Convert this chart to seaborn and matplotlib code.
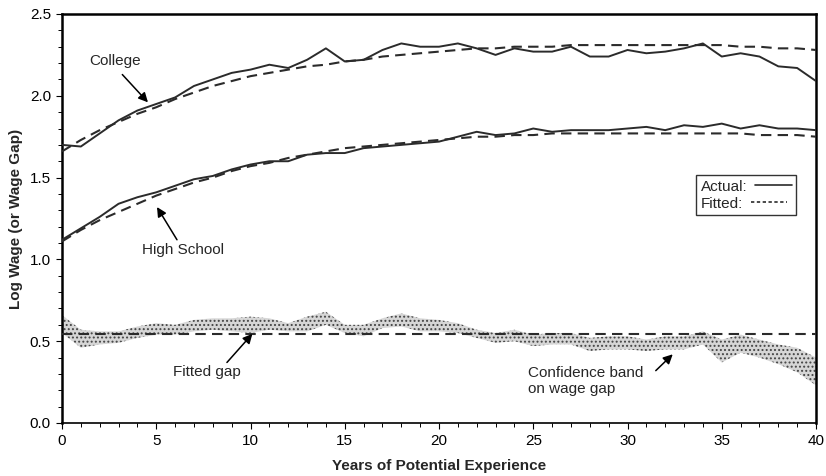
import numpy as np
import pandas as pd
import matplotlib
matplotlib.use("Agg")
import matplotlib.pyplot as plt
from matplotlib.lines import Line2D
from matplotlib.ticker import MultipleLocator, FormatStrFormatter
import seaborn as sns

years = list(range(0, 41))

college_actual = [1.70, 1.69, 1.77, 1.85, 1.91, 1.95, 1.99, 2.06, 2.10, 2.14, 2.16,
                  2.19, 2.17, 2.22, 2.29, 2.21, 2.22, 2.28, 2.32, 2.30, 2.30,
                  2.32, 2.29, 2.25, 2.29, 2.27, 2.27, 2.30, 2.24, 2.24, 2.28,
                  2.26, 2.27, 2.29, 2.32, 2.24, 2.26, 2.24, 2.18, 2.17, 2.09]
college_fitted = [1.66, 1.73, 1.79, 1.84, 1.89, 1.93, 1.98, 2.02, 2.06, 2.09, 2.12,
                  2.14, 2.16, 2.18, 2.19, 2.21, 2.22, 2.24, 2.25, 2.26, 2.27,
                  2.28, 2.29, 2.29, 2.30, 2.30, 2.30, 2.31, 2.31, 2.31, 2.31,
                  2.31, 2.31, 2.31, 2.31, 2.31, 2.30, 2.30, 2.29, 2.29, 2.28]
hs_actual = [1.12, 1.19, 1.26, 1.34, 1.38, 1.41, 1.45, 1.49, 1.51, 1.55, 1.58,
             1.60, 1.60, 1.64, 1.65, 1.65, 1.68, 1.69, 1.70, 1.71, 1.72,
             1.75, 1.78, 1.76, 1.77, 1.80, 1.78, 1.79, 1.79, 1.79, 1.80,
             1.81, 1.79, 1.82, 1.81, 1.83, 1.80, 1.82, 1.80, 1.80, 1.79]
hs_fitted = [1.11, 1.18, 1.24, 1.29, 1.34, 1.39, 1.43, 1.47, 1.50, 1.54, 1.57,
             1.59, 1.62, 1.64, 1.66, 1.68, 1.69, 1.70, 1.71, 1.72, 1.73,
             1.74, 1.75, 1.75, 1.76, 1.76, 1.77, 1.77, 1.77, 1.77, 1.77,
             1.77, 1.77, 1.77, 1.77, 1.77, 1.77, 1.76, 1.76, 1.76, 1.75]
gap_upper = [0.66, 0.57, 0.56, 0.56, 0.59, 0.61, 0.60, 0.63, 0.64, 0.64, 0.65,
             0.64, 0.61, 0.65, 0.68, 0.60, 0.60, 0.64, 0.67, 0.64, 0.63,
             0.61, 0.57, 0.55, 0.57, 0.54, 0.55, 0.55, 0.52, 0.53, 0.53,
             0.51, 0.53, 0.53, 0.56, 0.51, 0.54, 0.51, 0.48, 0.46, 0.40]
gap_lower = [0.55, 0.46, 0.48, 0.49, 0.52, 0.54, 0.54, 0.56, 0.57, 0.56, 0.55,
             0.57, 0.56, 0.56, 0.60, 0.55, 0.53, 0.58, 0.59, 0.56, 0.56,
             0.55, 0.52, 0.49, 0.50, 0.47, 0.48, 0.48, 0.44, 0.45, 0.45,
             0.44, 0.45, 0.45, 0.48, 0.37, 0.43, 0.40, 0.36, 0.31, 0.23]
fitted_gap = [0.545] * 41

x_ticks = [0, 5, 10, 15, 20, 25, 30, 35, 40]
y_ticks = [0.0, 0.5, 1.0, 1.5, 2.0, 2.5]

sns.set_theme(style="ticks")
plt.rcParams['font.family'] = ['Liberation Sans', 'DejaVu Sans']
plt.rcParams['hatch.color'] = '#444444'
plt.rcParams['hatch.linewidth'] = 0.9

fig = plt.figure(figsize=(8.26, 4.76), dpi=100)
ax = fig.add_axes([62/826, 1 - 423/476, 754/826, 409/476])

line_col = '#2b2b2b'
ax.fill_between(years, gap_lower, gap_upper, facecolor='#d6d6d6',
                edgecolor='#444444', hatch='....', linewidth=0, zorder=1)

sns.lineplot(x=years, y=college_actual, ax=ax, color=line_col, lw=1.4, zorder=3)
sns.lineplot(x=years, y=college_fitted, ax=ax, color=line_col, lw=1.5,
             linestyle=(0, (5, 3)), zorder=3)
sns.lineplot(x=years, y=hs_actual, ax=ax, color=line_col, lw=1.4, zorder=3)
sns.lineplot(x=years, y=hs_fitted, ax=ax, color=line_col, lw=1.5,
             linestyle=(0, (5, 3)), zorder=3)
sns.lineplot(x=years, y=fitted_gap, ax=ax, color=line_col, lw=1.5,
             linestyle=(0, (5, 3)), zorder=3)

ax.set_xlim(0, 40)
ax.set_ylim(0, 2.5)
ax.set_xticks(x_ticks)
ax.set_yticks(y_ticks)
ax.xaxis.set_minor_locator(MultipleLocator(1))
ax.yaxis.set_minor_locator(MultipleLocator(0.1))
ax.yaxis.set_major_formatter(FormatStrFormatter('%.1f'))
ax.tick_params(axis='both', which='major', direction='out', length=4, width=0.8,
               labelsize=11, pad=4, color='black', labelcolor='black')
ax.tick_params(axis='both', which='minor', direction='out', length=3, width=0.7,
               color='black')
ax.tick_params(axis='x', which='major', pad=4)

for s in ax.spines.values():
    s.set_visible(True)
    s.set_linewidth(1.8)
    s.set_color('black')
ax.spines['bottom'].set_linewidth(1.2)

ax.set_xlabel('Years of Potential Experience', fontsize=11, fontweight='bold',
              labelpad=8)
ax.set_ylabel('Log Wage (or Wage Gap)', fontsize=11, fontweight='bold',
              labelpad=5)

arrow = dict(arrowstyle='-|>', color='black', lw=1.1, mutation_scale=14,
             shrinkA=0, shrinkB=0)
ax.text(2.8, 2.21, 'College', fontsize=11, ha='center', va='center')
ax.annotate('', xy=(4.56, 1.96), xytext=(3.2, 2.13), arrowprops=arrow)
ax.text(6.4, 1.06, 'High School', fontsize=11, ha='center', va='center')
ax.annotate('', xy=(5.04, 1.32), xytext=(6.1, 1.12), arrowprops=arrow)
ax.text(7.7, 0.31, 'Fitted gap', fontsize=11, ha='center', va='center')
ax.annotate('', xy=(10.1, 0.545), xytext=(8.75, 0.37), arrowprops=arrow)
ax.text(24.7, 0.255, 'Confidence band\non wage gap', fontsize=11,
        ha='left', va='center', linespacing=1.2)
ax.annotate('', xy=(32.4, 0.42), xytext=(31.5, 0.32), arrowprops=arrow)

handles = [Line2D([], [], color=line_col, lw=1.2),
           Line2D([], [], color=line_col, lw=1.2, linestyle=(0, (2, 1.5)))]
leg = ax.legend(handles, ['Actual:', 'Fitted:'], loc='upper left',
                bbox_to_anchor=(0.841, 0.606), borderaxespad=0,
                markerfirst=False, handlelength=2.4, handletextpad=0.5,
                fontsize=11, frameon=True, fancybox=False,
                borderpad=0.3, labelspacing=0.2)
leg.get_frame().set_edgecolor('black')
leg.get_frame().set_linewidth(1.0)
# left-align legend rows (text first, line after)
for col in leg._legend_handle_box.get_children():
    col.align = 'left'

fig.savefig('out.png', dpi=100)
